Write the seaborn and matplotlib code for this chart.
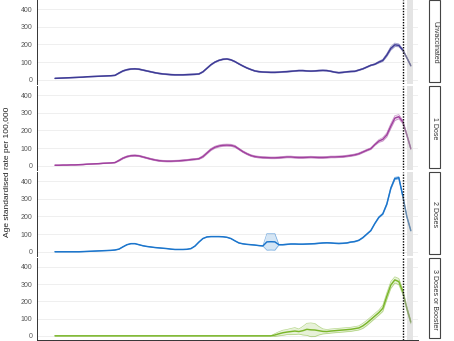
import numpy as np
import pandas as pd
import matplotlib
matplotlib.use("Agg")
import matplotlib.pyplot as plt
import seaborn as sns
from matplotlib.patches import Rectangle
from matplotlib.colors import to_rgb

# ---------------- data ----------------
groups = ["Unvaccinated", "1 Dose", "2 Doses", "3 Doses or Booster"]
colors = ["#3d3a96", "#a0409e", "#1b75cc", "#7ab62a"]
week = list(range(90))

rate_unvax = [8, 9, 10, 11, 12, 13, 14, 15, 17, 18, 19, 20, 21, 22, 23, 25,
              38, 50, 57, 61, 62, 60, 55, 50, 45, 40, 36, 33, 31, 29, 28, 28, 28, 29, 30, 31, 33,
              45, 65, 85, 100, 110, 116, 118, 113, 103, 90, 78, 67, 58, 50, 46, 44, 43, 42, 42, 43,
              45, 46, 48, 50, 52, 52, 50, 49, 50, 52, 53, 52, 48, 43, 40, 42, 45, 47,
              48, 55, 62, 72, 82, 88, 100, 110, 140, 178, 198, 195, 168, 125, 80]
rate_1dose = [3, 3, 4, 4, 5, 5, 6, 7, 9, 10, 11, 12, 14, 15, 16, 18,
              30, 43, 52, 57, 58, 56, 50, 44, 38, 33, 29, 27, 26, 26, 27, 28, 30, 32, 35, 37, 40,
              52, 72, 92, 105, 112, 116, 117, 116, 110, 95, 80, 68, 58, 52, 49, 47, 46, 45, 45, 46,
              48, 50, 50, 48, 47, 47, 48, 49, 48, 47, 47, 48, 50, 50, 51, 52, 55, 58,
              62, 68, 78, 88, 97, 120, 140, 150, 175, 225, 270, 278, 248, 175, 97]
rate_2dose = [0, 0, 0, 0, 0, 0, 0, 1, 2, 3, 4, 5, 6, 7, 8, 10,
              15, 28, 40, 46, 46, 40, 34, 30, 27, 24, 22, 20, 18, 15,
              13, 13, 13, 14, 18, 32, 55, 75, 84, 86, 86, 86, 85, 82, 75, 62, 50, 45, 42, 40, 38, 35, 33, 56, 57, 56, 40,
              40, 42, 44, 44, 43, 43, 44, 45, 46, 48, 50, 51, 50, 48, 47, 48, 50, 55,
              58, 65, 80, 100, 120, 160, 195, 215, 270, 360, 415, 420, 315, 200, 120]
rate_booster = [0] * 55 + [5, 12, 18, 22, 25, 28, 25, 30, 38, 35, 34, 30, 26, 25, 28,
                           30, 32, 34, 36, 38, 42, 46, 58, 75, 95, 115, 135, 160, 230, 295,
                           325, 315, 255, 160, 80]

# half-width of the confidence ribbons
hw_unvax = [2] * 16 + [3] * 65 + [5, 6, 8, 10, 10, 8, 6, 5, 4]
hw_1dose = [2] * 16 + [4] * 21 + [6] * 9 + [5] * 35 + [8, 10, 12, 14, 14, 12, 10, 8, 6]
hw_2dose = [1] * 53 + [47, 47, 47] + [2] * 25 + [3, 4, 5, 6, 7, 6, 5, 4, 3]
hw_booster = [0] * 55 + [8, 12, 15, 15, 18, 20, 15, 25, 35, 40, 38, 25, 15, 12, 12,
                         12, 12, 12, 12, 12, 12, 12, 15, 15, 15, 15, 15, 18, 20, 20,
                         18, 18, 15, 12, 10]

rates = [rate_unvax, rate_1dose, rate_2dose, rate_booster]
hws = [hw_unvax, hw_1dose, hw_2dose, hw_booster]

cutoff_week = 87
provisional_band = (88.0, 89.5)
yticks = [0, 100, 200, 300, 400]
ylabel = "Age standardised rate per 100,000"

# ---------------- style ----------------
sns.set_theme(style="white")
plt.rcParams["font.family"] = ["Liberation Sans", "DejaVu Sans"]

W, H = 454, 341
fig = plt.figure(figsize=(W / 100, H / 100), dpi=100)

left_px, right_px = 37, 418
row_tops = [0, 86, 172, 258]
row_h = [84, 84, 84, 82]


def blend(c, g="#9a9a9a", a=0.6):
    c1, c2 = np.array(to_rgb(c)), np.array(to_rgb(g))
    return tuple(c1 * (1 - a) + c2 * a)


for k, (grp, col, r, hw) in enumerate(zip(groups, colors, rates, hws)):
    top, h = row_tops[k], row_h[k]
    ax = fig.add_axes([left_px / W, 1 - (top + h) / H, (right_px - left_px) / W, h / H])
    r = np.array(r, float)
    hw = np.array(hw, float)
    df = pd.DataFrame({"week": week, "rate": r, "lo": r - hw, "hi": r + hw})

    # grid
    for yv in yticks:
        ax.axhline(yv, color="#ececec", lw=0.6, zorder=0)
    ax.axvspan(*provisional_band, color="#e4e4e4", lw=0, zorder=0.5)

    # ribbon
    ax.fill_between(df["week"], df["lo"], df["hi"], color=col, alpha=0.18, lw=0, zorder=1)
    main = df[df["week"] <= cutoff_week]
    tail = df[df["week"] >= cutoff_week]
    for c in ["lo", "hi"]:
        sns.lineplot(data=main, x="week", y=c, ax=ax, color=col, lw=0.5, alpha=0.55, zorder=2)
        sns.lineplot(data=tail, x="week", y=c, ax=ax, color=blend(col), lw=0.5, alpha=0.55, zorder=2)
    sns.lineplot(data=main, x="week", y="rate", ax=ax, color=col, lw=1.05, zorder=3)
    sns.lineplot(data=tail, x="week", y="rate", ax=ax, color=blend(col), lw=1.05, zorder=3)

    ax.axvline(cutoff_week, color="black", lw=1.0, ls=(0, (1, 1)), zorder=4)

    ax.set_xlim(-4.5, 90.8)
    ax.set_ylim(-24, 452)
    ax.set_yticks(yticks)
    ax.set_yticklabels([str(v) for v in yticks])
    ax.tick_params(axis="y", labelsize=5, colors="#555555", length=2, width=0.5, pad=1.5)
    ax.set_xlabel("")
    ax.set_ylabel("")
    for s in ["top", "right"]:
        ax.spines[s].set_visible(False)
    ax.spines["left"].set_color("#333333")
    ax.spines["left"].set_linewidth(0.7)
    if k == 3:
        ax.spines["bottom"].set_color("#333333")
        ax.spines["bottom"].set_linewidth(0.7)
        ax.set_xticks(np.arange(-0.5, 90, 3.75))
        ax.set_xticklabels([])
        ax.tick_params(axis="x", length=2, width=0.5, colors="#333333", bottom=True)
    else:
        ax.spines["bottom"].set_visible(False)
        ax.set_xticks([])
    ax.patch.set_alpha(0)

    # strip on the right (with a slight shadow)
    sx0, sx1 = 429, 440
    y0 = 1 - (top + h - 2) / H
    fig.patches.append(Rectangle(((sx0 + 1.2) / W, y0 - 1.2 / H), (sx1 - sx0) / W, (h - 2) / H,
                                 transform=fig.transFigure, facecolor="#8a8a8a",
                                 edgecolor="none", zorder=4))
    fig.patches.append(Rectangle((sx0 / W, y0), (sx1 - sx0) / W, (h - 2) / H,
                                 transform=fig.transFigure, facecolor="white",
                                 edgecolor="#444444", lw=0.8, zorder=5))
    fig.text((sx0 + sx1) / 2 / W, 1 - (top + h / 2) / H, grp, rotation=-90,
             ha="center", va="center", fontsize=5, color="#333333", zorder=10)

fig.text(8 / W, 1 - 172 / H, ylabel, rotation=90, ha="center", va="center",
         fontsize=6, color="#222222")

fig.savefig("out.png", dpi=100)
